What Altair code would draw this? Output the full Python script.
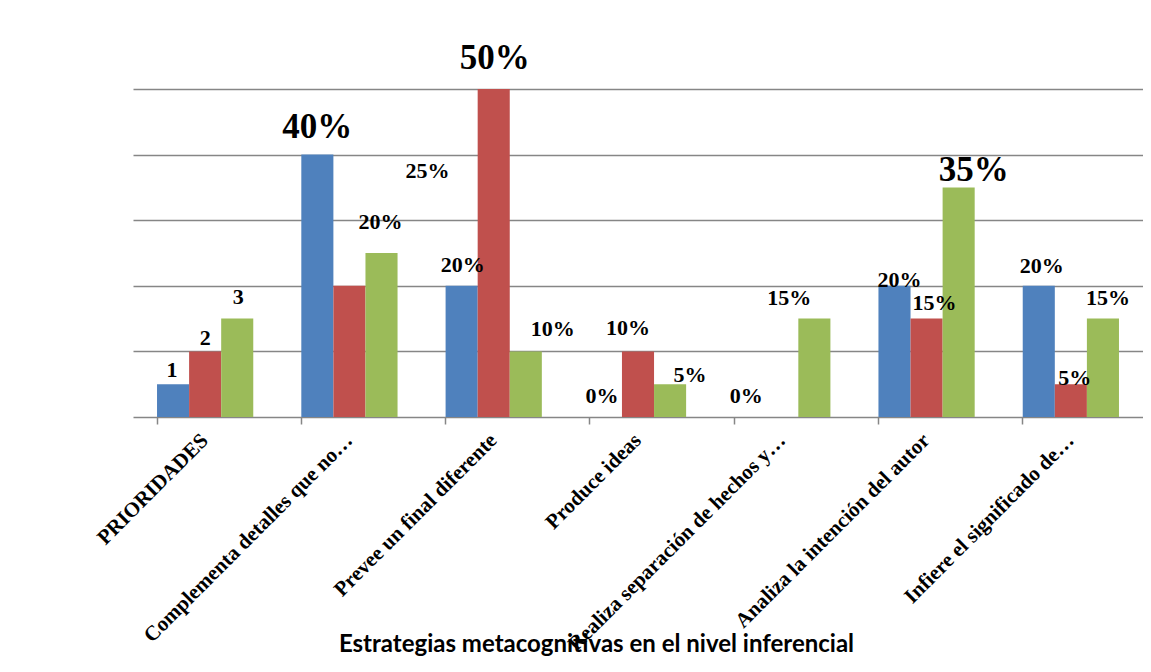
import altair as alt
import pandas as pd

categories = [
    "PRIORIDADES",
    "Complementa detalles que no…",
    "Prevee un final diferente",
    "Produce ideas",
    "Realiza separación de hechos y…",
    "Analiza la intención del autor",
    "Infiere el significado de…",
]
series = ["Serie 1", "Serie 2", "Serie 3"]
serie1 = [5, 40, 20, 0, 0, 20, 20]
serie2 = [10, 20, 50, 10, 0, 15, 5]
serie3 = [15, 25, 10, 5, 15, 35, 15]
labels1 = ["1", "40%", "20%", "0%", "0%", "20%", "20%"]
labels2 = ["2", "25%", "50%", "10%", "", "15%", "5%"]
labels3 = ["3", "20%", "10%", "5%", "15%", "35%", "15%"]
colors = ["#4F81BD", "#C0504D", "#9BBB59"]
title_text = "Estrategias metacognitivas en el nivel inferencial"

# label placement style (dx, dy in px relative to bar top, font size), per series per category
style1 = [(-1, -14, 22), (0, -28, 35), (1, -21, 22), (-4, -21, 22), (-4, -21, 22), (5, -6, 22), (3, -20, 22)]
style2 = [(0, -13, 22), (78, -115, 22), (1, -31, 35), (-10, -23, 22), (0, 0, 22), (8, -16, 22), (4, -6, 22)]
style3 = [(1, -22, 22), (-1, -31, 22), (27, -22, 22), (20, -9, 22), (-25, -21, 22), (15, -17, 35), (5, -21, 22)]

rows = []
for s, vals, labs, sty in zip(series, [serie1, serie2, serie3], [labels1, labels2, labels3], [style1, style2, style3]):
    for c, v, l, st in zip(categories, vals, labs, sty):
        rows.append({"category": c, "serie": s, "value": v, "label": l, "dx": st[0], "dy": st[1], "size": st[2]})
df = pd.DataFrame(rows)
df["idx"] = range(len(df))

SERIF = "Liberation Serif, Times New Roman, serif"

x_enc = alt.X(
    "category:N",
    sort=categories,
    scale=alt.Scale(paddingInner=0.333, paddingOuter=0.1665),
    axis=alt.Axis(
        title=title_text,
        titleFont="Lato",
        titleFontSize=24,
        titleFontWeight="bold",
        titleColor="#000000",
        titleX=463,
        titleY=234,
        titleAlign="center",
        titleBaseline="alphabetic",
        labelAngle=-45,
        labelAlign="right",
        labelBaseline="middle",
        labelFont=SERIF,
        labelFontWeight="bold",
        labelFontSize=21,
        labelColor="#000000",
        labelPadding=13,
        labelLimit=0,
        labelOverlap=False,
        bandPosition=0,
        tickSize=7,
        tickColor="#868686",
        tickWidth=1.5,
        domainColor="#868686",
        domainWidth=1.5,
        grid=False,
    ),
)
xoff_enc = alt.XOffset("serie:N", sort=series, scale=alt.Scale(paddingInner=0, paddingOuter=0))
y_enc = alt.Y(
    "value:Q",
    scale=alt.Scale(domain=[0, 50], nice=False),
    axis=alt.Axis(
        title=None,
        labels=False,
        ticks=False,
        domain=False,
        grid=True,
        values=[10, 20, 30, 40, 50],
        gridColor="#868686",
        gridWidth=1.5,
    ),
)

bars = alt.Chart(df).mark_bar().encode(
    x=x_enc,
    xOffset=xoff_enc,
    y=y_enc,
    color=alt.Color("serie:N", sort=series, scale=alt.Scale(domain=series, range=colors), legend=None),
)

layers = [bars]
for _, r in df.iterrows():
    if r["label"] == "":
        continue
    t = (
        alt.Chart(df)
        .transform_filter(alt.datum.idx == int(r["idx"]))
        .mark_text(
            dx=int(r["dx"]),
            dy=int(r["dy"]),
            fontSize=int(r["size"]),
            font=SERIF,
            fontWeight="bold",
            color="#000000",
            align="center",
            baseline="middle",
        )
        .encode(
            x=alt.X("category:N", sort=categories),
            xOffset=alt.XOffset("serie:N", sort=series),
            y=alt.Y("value:Q"),
            text="label:N",
        )
    )
    layers.append(t)

chart = (
    alt.layer(*layers)
    .properties(
        width=1010,
        height=328,
        padding={"left": 125, "top": 81, "right": 0, "bottom": 247},
        autosize=alt.AutoSizeParams(type="none"),
        background="#ffffff",
    )
    .configure_view(stroke=None)
)

chart.save("out.html", embed_options={"renderer": "svg", "actions": False})
